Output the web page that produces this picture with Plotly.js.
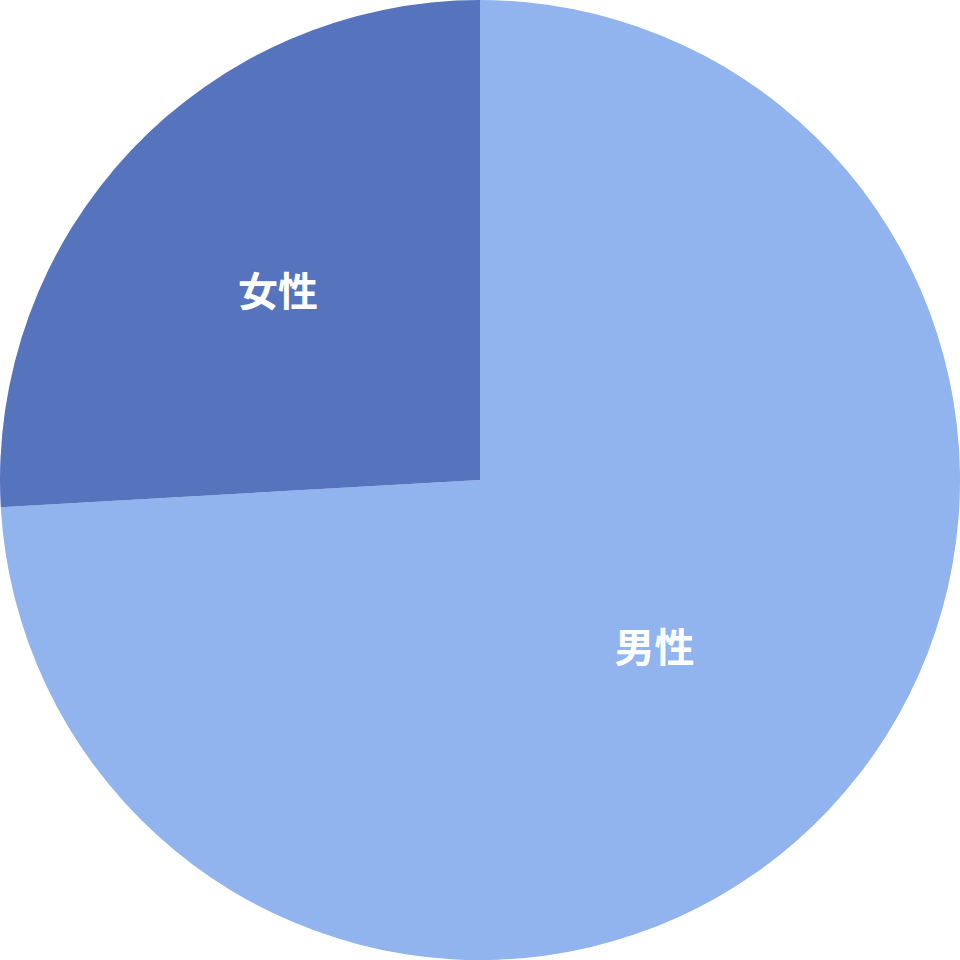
<!DOCTYPE html>
<html><head><meta charset="utf-8">
<script src="https://cdn.plot.ly/plotly-3.0.1.min.js"></script>
<style>html,body{margin:0;padding:0;background:#fff}#c{width:960px;height:960px}</style>
</head><body><div id="c"></div>
<script>
const labels = ["男性", "女性"];
const values = [74.1, 25.9];
const colors = ["#91B3EE", "#5674BD"];
Plotly.newPlot("c", [{
  type: "pie",
  labels: labels,
  values: values,
  sort: false,
  direction: "clockwise",
  rotation: 0,
  marker: {colors: colors, line: {width: 0}},
  textinfo: "label",
  textposition: "inside",
  insidetextorientation: "horizontal",
  insidetextfont: {color: "#ffffff", size: 40, family: "Noto Sans CJK JP", weight: "bold"},
  hoverinfo: "none",
  domain: {x: [0, 1], y: [0, 1]}
}], {
  width: 960, height: 960,
  margin: {l: 0, r: 0, t: 0, b: 0},
  showlegend: false,
  paper_bgcolor: "#ffffff"
}, {displayModeBar: false, staticPlot: true});
</script></body></html>
